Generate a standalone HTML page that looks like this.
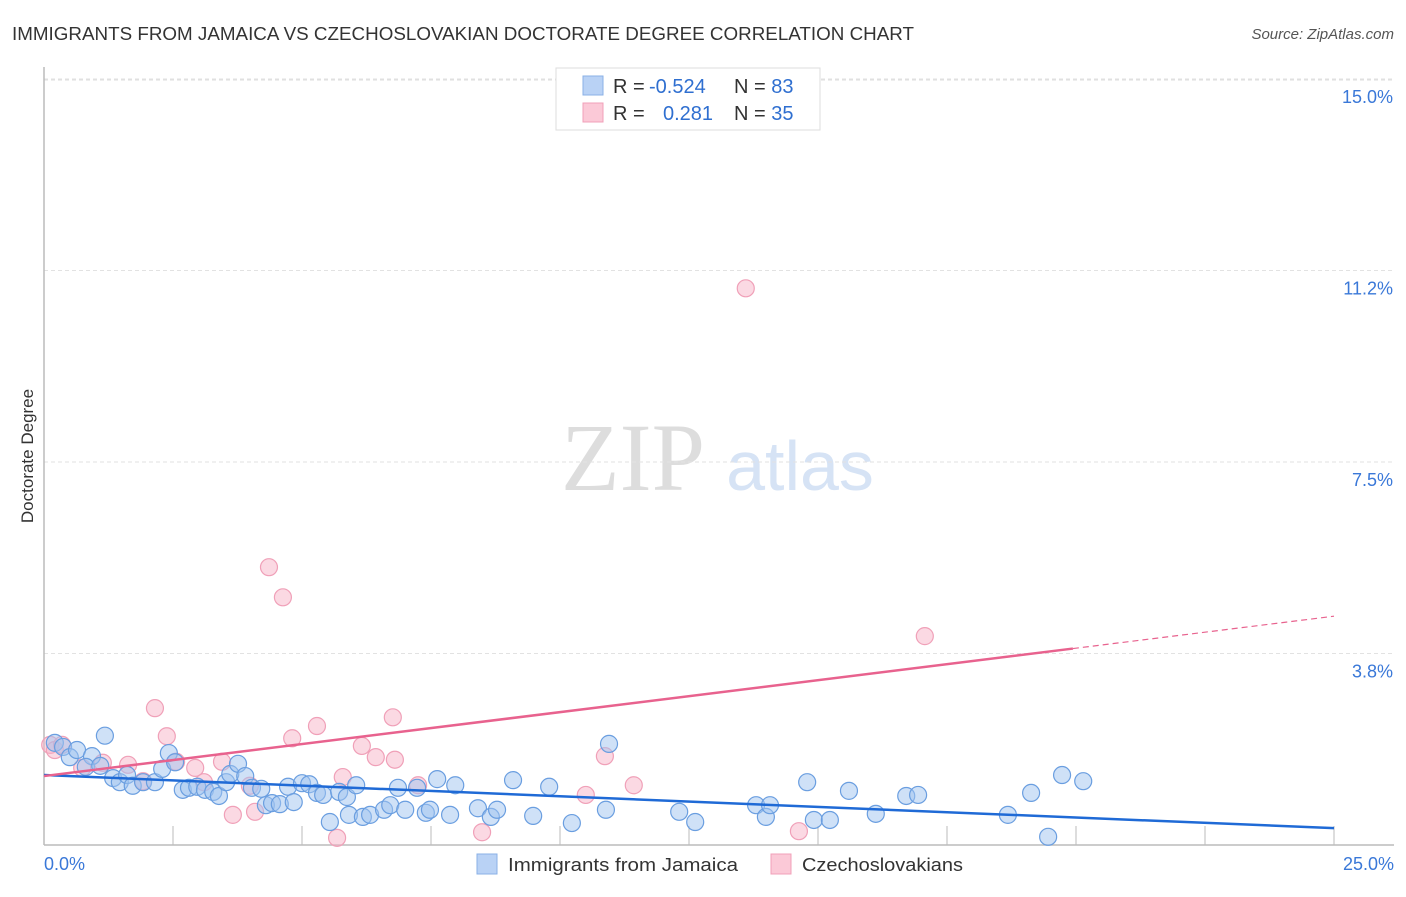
<!DOCTYPE html>
<html><head><meta charset="utf-8"><style>
body{margin:0;background:#fff;font-family:"Liberation Sans",sans-serif;}
</style></head><body>
<svg width="1406" height="892" xmlns="http://www.w3.org/2000/svg" id="svg">
<text x="12" y="40" font-size="18" fill="#333" textLength="902" lengthAdjust="spacingAndGlyphs">IMMIGRANTS FROM JAMAICA VS CZECHOSLOVAKIAN DOCTORATE DEGREE CORRELATION CHART</text>
<text x="1394" y="39" font-size="15" fill="#555" font-style="italic" text-anchor="end">Source: ZipAtlas.com</text>
<text x="633" y="490" font-size="96" fill="#ddd" font-family="Liberation Serif" text-anchor="middle">ZIP</text>
<text x="800" y="490" font-size="70" fill="#d6e3f5" text-anchor="middle">atlas</text>
<text transform="translate(33,456) rotate(-90)" font-size="17" fill="#333" text-anchor="middle">Doctorate Degree</text>
<g id="grid"></g><g id="pts"></g><g id="lines"></g>
<g>
<rect x="556" y="68" width="264" height="62" fill="#fff" stroke="#ddd"/>
<rect x="583" y="76" width="20" height="19" fill="#b9d2f5" stroke="#8ab0e6"/>
<rect x="583" y="103" width="20" height="19" fill="#fbc9d7" stroke="#f0a0b8"/>
<text x="613" y="93" font-size="20" fill="#333">R = <tspan fill="#2f6fd0" x="649">-0.524</tspan></text>
<text x="734" y="93" font-size="20" fill="#333">N = <tspan fill="#2f6fd0">83</tspan></text>
<text x="613" y="120" font-size="20" fill="#333">R = <tspan fill="#2f6fd0" x="663">0.281</tspan></text>
<text x="734" y="120" font-size="20" fill="#333">N = <tspan fill="#2f6fd0">35</tspan></text>
</g>
<g>
<rect x="477" y="854" width="20" height="20" fill="#b9d2f5" stroke="#8ab0e6"/>
<text x="508" y="871" font-size="18.5" fill="#333" textLength="230" lengthAdjust="spacingAndGlyphs">Immigrants from Jamaica</text>
<rect x="771" y="854" width="20" height="20" fill="#fbc9d7" stroke="#f0a0b8"/>
<text x="802" y="871" font-size="18.5" fill="#333" textLength="161" lengthAdjust="spacingAndGlyphs">Czechoslovakians</text>
</g>
</svg>
<script>
const yTicks=[3.75,7.5,11.25,15];
const yTickLabels=["3.8%","7.5%","11.2%","15.0%"];
const xLabels=["0.0%","25.0%"];
const blueX=[0.21,0.37,0.5,0.64,0.93,0.81,1.09,1.18,1.34,1.47,1.61,1.72,1.92,2.15,2.29,2.42,2.54,2.69,2.81,2.97,3.12,3.28,3.39,3.53,3.61,3.76,3.9,4.03,4.21,4.3,4.42,4.57,4.73,4.84,5.0,5.14,5.29,5.41,5.54,5.72,5.87,5.91,6.05,6.18,6.32,6.59,6.71,6.86,7.0,7.23,7.4,7.48,7.62,7.87,7.97,8.41,8.66,8.78,9.09,9.48,9.79,10.23,10.89,10.95,12.31,12.62,13.8,13.99,14.07,14.79,14.92,15.23,15.6,16.12,16.71,16.94,18.68,19.13,19.46,19.73,20.14];
const blueY=[2.0,1.92,1.72,1.86,1.74,1.53,1.55,2.14,1.31,1.23,1.37,1.16,1.23,1.23,1.49,1.8,1.62,1.08,1.12,1.14,1.08,1.04,0.96,1.23,1.39,1.59,1.35,1.12,1.1,0.78,0.82,0.8,1.14,0.84,1.21,1.19,1.02,0.98,0.45,1.04,0.94,0.59,1.17,0.55,0.59,0.69,0.78,1.12,0.69,1.12,0.63,0.69,1.29,0.59,1.17,0.72,0.55,0.69,1.27,0.57,1.14,0.43,0.69,1.98,0.65,0.45,0.78,0.55,0.78,1.23,0.49,0.49,1.06,0.61,0.96,0.98,0.59,1.02,0.16,1.37,1.25];
const pinkX=[0.12,0.21,0.35,0.74,1.14,1.63,1.92,2.15,2.38,2.56,2.93,3.1,3.45,3.66,3.99,4.09,4.36,4.63,4.81,5.29,5.68,5.79,6.16,6.43,6.76,6.8,7.25,8.49,10.5,10.87,11.43,13.6,14.63,17.07];
const pinkY=[1.96,1.86,1.96,1.51,1.61,1.57,1.25,2.68,2.13,1.63,1.51,1.23,1.63,0.59,1.16,0.65,5.44,4.85,2.09,2.33,0.14,1.33,1.94,1.72,2.5,1.67,1.17,0.25,0.98,1.74,1.17,10.9,0.27,4.09];
const blueReg=[1.37,0.33];
const pinkReg=[1.35,4.48];
const pinkSolidEnd=19.94;
const NS="http://www.w3.org/2000/svg";
const X=v=>44+v*51.6, Y=v=>845-v*51.07;
function mk(t,a,p){const e=document.createElementNS(NS,t);for(const k in a)e.setAttribute(k,a[k]);document.getElementById(p).appendChild(e);return e;}
const g='grid';
let l=mk('line',{x1:44,y1:80,x2:1394,y2:80,stroke:'#ddd','stroke-dasharray':'4,3'},g);


yTicks.forEach((t,i)=>{
 const gl=mk('line',{x1:44,y1:Y(t),x2:1394,y2:Y(t),stroke:'#e2e2e2','stroke-dasharray':'4,3'},g);
 
 
 const tx=mk('text',{x:1393,y:Y(t)+24,'font-size':18,fill:'#3a78d8','text-anchor':'end'},g);
 tx.textContent=yTickLabels[i];
 
 
});
const ax=mk('line',{x1:44,y1:67,x2:44,y2:845,stroke:'#bbb','stroke-width':1.5},g);


const bx=mk('line',{x1:44,y1:845,x2:1394,y2:845,stroke:'#bbb','stroke-width':1.5},g);


for(let i=1;i<=10;i++){const tk=mk('line',{x1:X(i*2.5),y1:826,x2:X(i*2.5),y2:845,stroke:'#bbb'},g);
 
 }
const xl0=mk('text',{x:44,y:870,'font-size':18,fill:'#3a78d8'},g);xl0.textContent=xLabels[0];


const xl1=mk('text',{x:1394,y:870,'font-size':18,fill:'#3a78d8','text-anchor':'end'},g);xl1.textContent=xLabels[1];


pinkX.forEach((v,i)=>{const c=mk('circle',{cx:X(v),cy:Y(pinkY[i]),r:8.5,fill:'rgba(248,180,200,0.5)',stroke:'#f0a0b8','stroke-width':1.2},'pts');
 
 });
blueX.forEach((v,i)=>{const c=mk('circle',{cx:X(v),cy:Y(blueY[i]),r:8.5,fill:'rgba(160,195,240,0.5)',stroke:'#6a9ee0','stroke-width':1.2},'pts');
 
 });
const br=mk('line',{x1:X(0),y1:Y(blueReg[0]),x2:X(25),y2:Y(blueReg[1]),stroke:'#1f6ad6','stroke-width':2.5},'lines');


const pe=pinkReg[0]+(pinkReg[1]-pinkReg[0])*pinkSolidEnd/25;
const pr=mk('line',{x1:X(0),y1:Y(pinkReg[0]),x2:X(pinkSolidEnd),y2:Y(pe),stroke:'#e8628e','stroke-width':2.5},'lines');


const pd=mk('line',{x1:X(pinkSolidEnd),y1:Y(pe),x2:X(25),y2:Y(pinkReg[1]),stroke:'#e8628e','stroke-width':1.2,'stroke-dasharray':'6,4'},'lines');


</script>
</body></html>
